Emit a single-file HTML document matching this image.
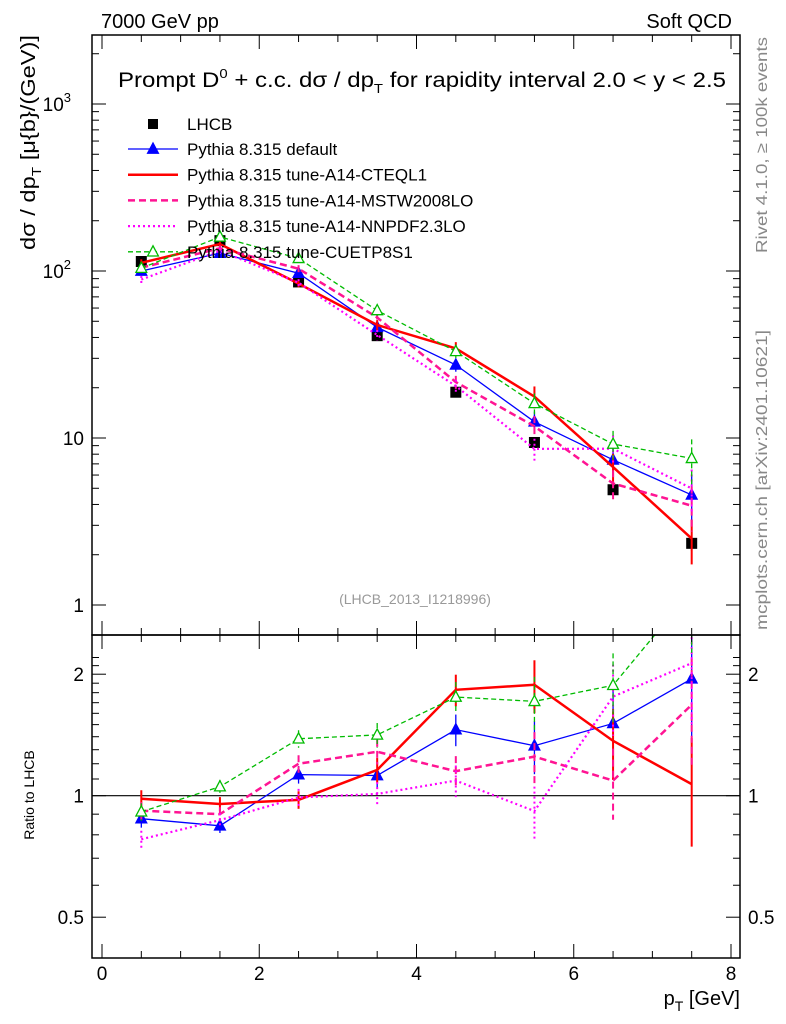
<!DOCTYPE html>
<html><head><meta charset="utf-8"><style>
body{margin:0;background:#fff}
svg{display:block;font-family:"Liberation Sans",sans-serif}
</style></head><body>
<svg id="chart" width="786" height="1024" xmlns="http://www.w3.org/2000/svg">
<rect width="786" height="1024" fill="#fff"/>
<text x="101" y="28" font-size="20">7000 GeV pp</text>
<text x="732" y="28" font-size="20" text-anchor="end">Soft QCD</text>
<text x="118" y="87" font-size="21" textLength="608" lengthAdjust="spacingAndGlyphs">Prompt D<tspan dy="-9" font-size="13">0</tspan><tspan dy="9"> + c.c.  dσ / dp</tspan><tspan dy="6" font-size="13">T</tspan><tspan dy="-6"> for rapidity interval 2.0 &lt; y &lt; 2.5</tspan></text>
<text transform="translate(35,250) rotate(-90)" font-size="20" textLength="215" lengthAdjust="spacingAndGlyphs">dσ / dp<tspan dy="6" font-size="13">T</tspan><tspan dy="-6"> [μ{b}/(GeV)]</tspan></text>
<text transform="translate(34,795) rotate(-90)" font-size="14" text-anchor="middle">Ratio to LHCB</text>
<text x="740" y="1005" font-size="20" text-anchor="end">p<tspan dy="6" font-size="14">T</tspan><tspan dy="-6"> [GeV]</tspan></text>
<text transform="translate(767,253) rotate(-90)" font-size="16" fill="#888" textLength="216" lengthAdjust="spacingAndGlyphs">Rivet 4.1.0, ≥ 100k events</text>
<text transform="translate(767,630) rotate(-90)" font-size="16" fill="#888" textLength="300" lengthAdjust="spacingAndGlyphs">mcplots.cern.ch [arXiv:2401.10621]</text>
<text x="415" y="604" font-size="14" fill="#999" text-anchor="middle">(LHCB_2013_I1218996)</text>
<g id="plot"></g>
</svg>
<script>
const xCenters=[0.5,1.5,2.5,3.5,4.5,5.5,6.5,7.5];
const lhcb=[114,152,86,41,18.8,9.4,4.9,2.34];
const lhcbErr=[0.04,0.04,0.05,0.05,0.06,0.07,0.08,0.1];
const pyDefault=[100,128,97,46,27.4,12.5,7.4,4.56];
const pyCTEQ=[112,145,84,47.5,34.4,17.7,6.7,2.5];
const mstwRatio=[0.918,0.90,1.20,1.285,1.15,1.25,1.09,1.68];
const nnpdfRatio=[0.78,0.87,0.99,1.01,1.09,0.916,1.76,2.13];
const pyCUETP=[104,160,119,58,33,16.1,9.2,7.55];
const mcErr=[0.05,0.04,0.05,0.07,0.09,0.15,0.2,0.3];
const xTicks=[0,2,4,6,8];
const yTicks=[1,10,100,1000];
const rTicks=[0.5,1,2];

const pyMSTW=mstwRatio.map((r,i)=>r*lhcb[i]);
const pyNNPDF=nnpdfRatio.map((r,i)=>r*lhcb[i]);
const L=92,R=740,T=35,MB=635,RB=958;
const X=v=>102+v*(731-102)/8;
const Y=v=>605-Math.log10(v)*167;
const YR=v=>795.7-Math.log2(v)*121.5;
const NS="http://www.w3.org/2000/svg";
const g=document.getElementById('plot');
function mk(tag,attrs,parent){const e=document.createElementNS(NS,tag);for(const k in attrs)e.setAttribute(k,attrs[k]);(parent||g).appendChild(e);return e;}
const defs=mk('defs',{});
const cp1=mk('clipPath',{id:'cm'},defs);mk('rect',{x:L,y:T,width:R-L,height:MB-T},cp1);
const cp2=mk('clipPath',{id:'cr'},defs);mk('rect',{x:L,y:MB,width:R-L,height:RB-MB},cp2);
const main=mk('g',{'clip-path':'url(#cm)'});


const rat=mk('g',{'clip-path':'url(#cr)'});


const rl=mk('line',{x1:L,x2:R,y1:YR(1),y2:YR(1),stroke:'#000','stroke-width':1.2},rat);



const series=[
 {name:'pythia-default',vals:pyDefault,color:'#0000ff',w:1.3,dash:'',marker:'tri-fill',label:'Pythia 8.315 default'},
 {name:'pythia-a14-cteql1',vals:pyCTEQ,color:'#ff0000',w:2.5,dash:'',marker:'none',label:'Pythia 8.315 tune-A14-CTEQL1'},
 {name:'pythia-a14-mstw2008lo',vals:pyMSTW,color:'#ff1493',w:2.5,dash:'7,4',marker:'none',label:'Pythia 8.315 tune-A14-MSTW2008LO'},
 {name:'pythia-a14-nnpdf23lo',vals:pyNNPDF,color:'#ff00ff',w:2.2,dash:'2,3',marker:'none',label:'Pythia 8.315 tune-A14-NNPDF2.3LO'},
 {name:'pythia-cuetp8s1',vals:pyCUETP,color:'#00bb00',w:1.3,dash:'5,3',marker:'tri-open',label:'Pythia 8.315 tune-CUETP8S1'}
];
function tri(cx,cy,s,c,fill,parent){return mk('polygon',{points:`${cx},${cy-s} ${cx-s*0.9},${cy+s*0.7} ${cx+s*0.9},${cy+s*0.7}`,fill:fill?c:'#fff',stroke:c,'stroke-width':1.3},parent);}
function drawSeries(s,ratio){
  const parent=ratio?rat:main;
  const grp=mk('g',{},parent);
  
  
  const yf=ratio?YR:Y;
  const v=s.vals.map((d,i)=>ratio?d/lhcb[i]:d);
  const pts=v.map((d,i)=>X(xCenters[i])+','+yf(d)).join(' ');
  const pl=mk('polyline',{points:pts,fill:'none',stroke:s.color,'stroke-width':s.w,'stroke-dasharray':s.dash},grp);
  
  
  v.forEach((d,i)=>{
    const x=X(xCenters[i]);
    const e=mk('line',{x1:x,x2:x,y1:yf(d*(1+mcErr[i])),y2:yf(Math.max(d*(1-mcErr[i]),0.01)),stroke:s.color,'stroke-width':s.w>2?2:1.3,'stroke-dasharray':s.dash},grp);
    
    
    if(s.marker!=='none'){
      const m=tri(x,yf(d),6,s.color,s.marker==='tri-fill',grp);
      
      
    }
  });
}
lhcb.forEach((d,i)=>{
  const x=X(xCenters[i]);
  const e=mk('line',{x1:x,x2:x,y1:Y(d*(1+lhcbErr[i])),y2:Y(d*(1-lhcbErr[i])),stroke:'#000','stroke-width':1.5},main);
  
  
  const m=mk('rect',{x:x-5.5,y:Y(d)-5.5,width:11,height:11,fill:'#000'},main);
  
  
});
series.forEach(s=>{drawSeries(s,false);drawSeries(s,true);});
const f1=mk('rect',{x:L,y:T,width:R-L,height:MB-T,fill:'none',stroke:'#000','stroke-width':1.5});


const f2=mk('rect',{x:L,y:MB,width:R-L,height:RB-MB,fill:'none',stroke:'#000','stroke-width':1.5});


for(let v=0;v<=8.01;v+=0.5){
  const major=Math.abs(v-Math.round(v/2)*2)<1e-6;const len=major?14:7;const x=X(v);
  [[MB,-1],[T,1],[RB,-1],[MB,1]].forEach(([y0,dir])=>{mk('line',{x1:x,x2:x,y1:y0,y2:y0+dir*len,stroke:'#000','stroke-width':1});});
}
xTicks.forEach(v=>{
  const t=mk('text',{x:X(v),y:980,'font-size':19,'text-anchor':'middle'});t.textContent=v;
  
  
});
for(let d=0;d<4;d++){for(let k=1;k<=9;k++){const v=Math.pow(10,d)*k;const y=Y(v);if(y<T||y>MB)continue;const len=k===1?14:7;
  mk('line',{x1:L,x2:L+len,y1:y,y2:y,stroke:'#000'});mk('line',{x1:R,x2:R-len,y1:y,y2:y,stroke:'#000'});}}
const ylab={1:'1',10:'10',100:'10<tspan dy="-9" font-size="13">2</tspan>',1000:'10<tspan dy="-9" font-size="13">3</tspan>'};
yTicks.forEach(v=>{
  const t=mk('text',{x:v>=100?71:84,y:Y(v)+7,'font-size':19,'text-anchor':'end'});t.innerHTML=ylab[v];
  
  
});
for(let v=0.5;v<=2.3;v+=0.1){const y=YR(v);if(y<MB||y>RB)continue;const maj=[0.5,1,2].some(m=>Math.abs(m-v)<1e-6);const len=maj?14:7;
  mk('line',{x1:L,x2:L+len,y1:y,y2:y,stroke:'#000'});mk('line',{x1:R,x2:R-len,y1:y,y2:y,stroke:'#000'});}
rTicks.forEach(v=>{
  const t=mk('text',{x:84,y:YR(v)+7,'font-size':19,'text-anchor':'end'});t.textContent=v;
  
  
  const t2=mk('text',{x:748,y:YR(v)+7,'font-size':19});t2.textContent=v;
  
  
});
const lg=mk('g',{});


let ly=124;
const e0=mk('g',{},lg);


mk('rect',{x:148,y:ly-5,width:10,height:10,fill:'#000'},e0);
const t0=mk('text',{x:187,y:ly+6,'font-size':17},e0);t0.textContent='LHCB';
series.forEach((s,i)=>{
  const y=149+i*25.7;
  const eg=mk('g',{},lg);
  
  
  mk('line',{x1:128,x2:178,y1:y,y2:y,stroke:s.color,'stroke-width':s.w,'stroke-dasharray':s.dash},eg);
  if(s.marker!=='none')tri(153,y,6,s.color,s.marker==='tri-fill',eg);
  const t=mk('text',{x:187,y:y+6,'font-size':17},eg);t.textContent=s.label;
});
</script>
</body></html>
